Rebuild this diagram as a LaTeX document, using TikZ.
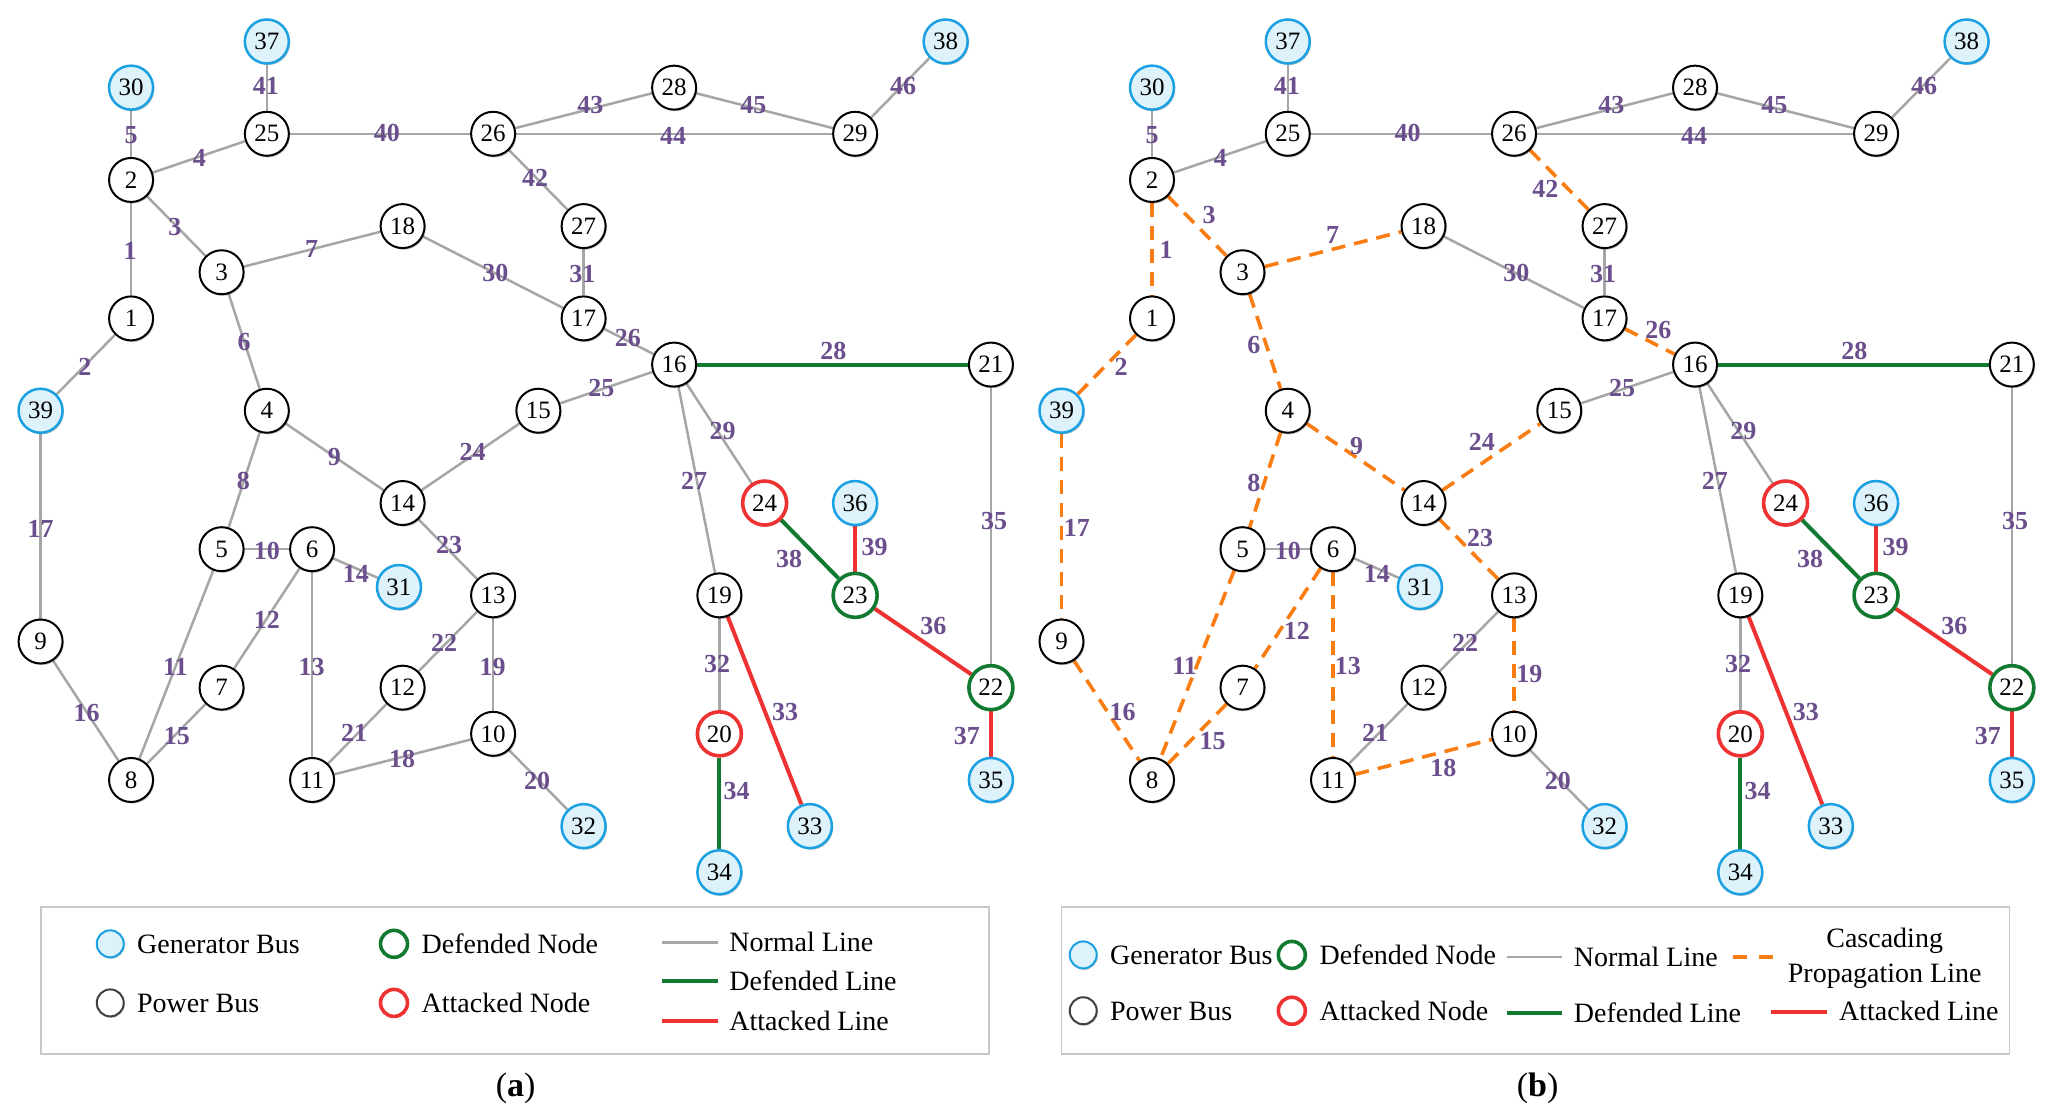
\documentclass[tikz,border=0pt]{standalone}
\usepackage{fontspec}
\setmainfont{Liberation Serif}
\usetikzlibrary{positioning,shadows}
\pgfdeclarelayer{bg}
\pgfsetlayers{bg,main}
\definecolor{genblue}{RGB}{27,161,226}
\definecolor{genfill}{RGB}{221,242,251}
\definecolor{defgreen}{RGB}{18,122,48}
\definecolor{attred}{RGB}{238,50,50}
\definecolor{lblpurple}{RGB}{107,79,140}
\definecolor{linegray}{RGB}{166,166,166}
\definecolor{cascorange}{RGB}{250,125,20}
\definecolor{framegray}{RGB}{200,200,200}
\tikzset{
  bus/.style={circle, draw=black, line width=1pt, fill=white, minimum size=22pt,
    inner sep=0pt, font=\fontsize{12.5}{14}\selectfont,
    drop shadow={shadow xshift=0.6pt, shadow yshift=-0.8pt, opacity=0.25, fill=black}},
  gen/.style={bus, draw=genblue, fill=genfill, line width=1.25pt},
  defnode/.style={bus, draw=defgreen, line width=1.8pt},
  attnode/.style={bus, draw=attred, line width=1.8pt},
  normalline/.style={draw=linegray, line width=1.25pt},
  defline/.style={draw=defgreen, line width=2pt},
  attline/.style={draw=attred, line width=2pt},
  cascline/.style={draw=cascorange, line width=1.8pt, dash pattern=on 7pt off 4.5pt},
  lbl/.style={inner sep=0pt, text=lblpurple, font=\fontsize{13}{15}\selectfont\bfseries}
}
\tikzset{
  lgcirc/.style={circle, inner sep=0pt, minimum size=13.5pt, line width=1pt, draw=black!75,
    fill=white, drop shadow={shadow xshift=0.5pt, shadow yshift=-0.7pt, opacity=0.25, fill=black}},
  lgtext/.style={inner sep=0pt, anchor=west, text height=9.3pt, text depth=0pt,
    font=\fontsize{14}{17}\selectfont},
  lgframe/.style={draw=framegray, line width=0.7pt}
}
\begin{document}
\begin{tikzpicture}[x=22.628pt, y=-23.079pt]
  \useasboundingbox (-0.8965,-0.8988) rectangle (44.448,23.258);

  \foreach \p/\dx/\cs in {a/0/normalline, b/22.56/cascline} {
    \begin{scope}[shift={(\dx,0)}]
      \node[bus] (\p1) at (2,6) {1};
      \node[bus] (\p2) at (2,3) {2};
      \node[bus] (\p3) at (4,5) {3};
      \node[bus] (\p4) at (5,8) {4};
      \node[bus] (\p5) at (4,11) {5};
      \node[bus] (\p6) at (6,11) {6};
      \node[bus] (\p7) at (4,14) {7};
      \node[bus] (\p8) at (2,16) {8};
      \node[bus] (\p9) at (0,13) {9};
      \node[bus] (\p10) at (10,15) {10};
      \node[bus] (\p11) at (6,16) {11};
      \node[bus] (\p12) at (8,14) {12};
      \node[bus] (\p13) at (10,12) {13};
      \node[bus] (\p14) at (8,10) {14};
      \node[bus] (\p15) at (11,8) {15};
      \node[bus] (\p16) at (14,7) {16};
      \node[bus] (\p17) at (12,6) {17};
      \node[bus] (\p18) at (8,4) {18};
      \node[bus] (\p19) at (15,12) {19};
      \node[attnode] (\p20) at (15,15) {20};
      \node[bus] (\p21) at (21,7) {21};
      \node[defnode] (\p22) at (21,14) {22};
      \node[defnode] (\p23) at (18,12) {23};
      \node[attnode] (\p24) at (16,10) {24};
      \node[bus] (\p25) at (5,2) {25};
      \node[bus] (\p26) at (10,2) {26};
      \node[bus] (\p27) at (12,4) {27};
      \node[bus] (\p28) at (14,1) {28};
      \node[bus] (\p29) at (18,2) {29};

      \node[gen] (\p30) at (2,1) {30};
      \node[gen] (\p31) at (7.92,11.82) {31};
      \node[gen] (\p32) at (12,17) {32};
      \node[gen] (\p33) at (17,17) {33};
      \node[gen] (\p34) at (15,18) {34};
      \node[gen] (\p35) at (21,16) {35};
      \node[gen] (\p36) at (18,10) {36};
      \node[gen] (\p37) at (5,0) {37};
      \node[gen] (\p38) at (20,0) {38};
      \node[gen] (\p39) at (0,8) {39};

      \begin{pgfonlayer}{bg}
        \draw (\p2) edge[\cs] (\p1);
        \draw (\p1) edge[\cs] (\p39);
        \draw (\p2) edge[\cs] (\p3);
        \draw (\p2) edge[normalline] (\p25);
        \draw (\p2) edge[normalline] (\p30);
        \draw (\p3) edge[\cs] (\p4);
        \draw (\p3) edge[\cs] (\p18);
        \draw (\p4) edge[\cs] (\p5);
        \draw (\p4) edge[\cs] (\p14);
        \draw (\p5) edge[normalline] (\p6);
        \draw (\p5) edge[\cs] (\p8);
        \draw (\p6) edge[\cs] (\p7);
        \draw (\p6) edge[\cs] (\p11);
        \draw (\p6) edge[normalline] (\p31);
        \draw (\p7) edge[\cs] (\p8);
        \draw (\p9) edge[\cs] (\p8);
        \draw (\p39) edge[\cs] (\p9);
        \draw (\p11) edge[\cs] (\p10);
        \draw (\p13) edge[\cs] (\p10);
        \draw (\p10) edge[normalline] (\p32);
        \draw (\p11) edge[normalline] (\p12);
        \draw (\p12) edge[normalline] (\p13);
        \draw (\p14) edge[\cs] (\p13);
        \draw (\p14) edge[\cs] (\p15);
        \draw (\p15) edge[normalline] (\p16);
        \draw (\p17) edge[\cs] (\p16);
        \draw (\p16) edge[normalline] (\p19);
        \draw (\p16) edge[defline] (\p21);
        \draw (\p16) edge[normalline] (\p24);
        \draw (\p18) edge[normalline] (\p17);
        \draw (\p27) edge[normalline] (\p17);
        \draw (\p19) edge[normalline] (\p20);
        \draw (\p19) edge[attline] (\p33);
        \draw (\p20) edge[defline] (\p34);
        \draw (\p21) edge[normalline] (\p22);
        \draw (\p23) edge[attline] (\p22);
        \draw (\p22) edge[attline] (\p35);
        \draw (\p24) edge[defline] (\p23);
        \draw (\p36) edge[attline] (\p23);
        \draw (\p25) edge[normalline] (\p26);
        \draw (\p37) edge[normalline] (\p25);
        \draw (\p26) edge[\cs] (\p27);
        \draw (\p26) edge[normalline] (\p28);
        \draw (\p26) edge[normalline] (\p29);
        \draw (\p28) edge[normalline] (\p29);
        \draw (\p29) edge[normalline] (\p38);
      \end{pgfonlayer}

      \node[lbl] (\p l4) at (3.51,2.53) {4};
      \node[lbl] (\p l5) at (2,2.02) {5};
      \node[lbl] (\p l10) at (5,11.04) {10};
      \node[lbl] (\p l14) at (6.97,11.54) {14};
      \node[lbl] (\p l20) at (10.97,16.03) {20};
      \node[lbl] (\p l21) at (6.93,14.97) {21};
      \node[lbl] (\p l22) at (8.92,13.04) {22};
      \node[lbl] (\p l25) at (12.39,7.51) {25};
      \node[lbl] (\p l27) at (14.44,9.52) {27};
      \node[lbl] (\p l28) at (17.52,6.7) {28};
      \node[lbl] (\p l29) at (15.07,8.43) {29};
      \node[lbl] (\p l30) at (10.05,5.02) {30};
      \node[lbl] (\p l31) at (11.97,5.03) {31};
      \node[lbl] (\p l32) at (14.95,13.48) {32};
      \node[lbl] (\p l33) at (16.45,14.52) {33};
      \node[lbl] (\p l34) at (15.38,16.25) {34};
      \node[lbl] (\p l35) at (21.07,10.4) {35};
      \node[lbl] (\p l36) at (19.73,12.66) {36};
      \node[lbl] (\p l37) at (20.47,15.05) {37};
      \node[lbl] (\p l38) at (16.54,11.21) {38};
      \node[lbl] (\p l39) at (18.43,10.96) {39};
      \node[lbl] (\p l40) at (7.65,1.98) {40};
      \node[lbl] (\p l41) at (4.98,0.96) {41};
      \node[lbl] (\p l43) at (12.15,1.37) {43};
      \node[lbl] (\p l44) at (13.98,2.05) {44};
      \node[lbl] (\p l45) at (15.75,1.37) {45};
      \node[lbl] (\p l46) at (19.06,0.96) {46};
    \end{scope}
  }

  % labels of the lines that cascade in (b)
  \node[lbl] (al1) at (1.98,4.53) {1};
  \node[lbl] (al2) at (0.98,7.05) {2};
  \node[lbl] (al3) at (2.97,4.01) {3};
  \node[lbl] (al6) at (4.5,6.52) {6};
  \node[lbl] (al7) at (5.99,4.5) {7};
  \node[lbl] (al8) at (4.48,9.53) {8};
  \node[lbl] (al9) at (6.49,9.01) {9};
  \node[lbl] (al11) at (2.98,13.56) {11};
  \node[lbl] (al12) at (5,12.53) {12};
  \node[lbl] (al13) at (5.99,13.56) {13};
  \node[lbl] (al15) at (3.01,15.04) {15};
  \node[lbl] (al16) at (1.02,14.54) {16};
  \node[lbl] (al17) at (0,10.55) {17};
  \node[lbl] (al18) at (7.99,15.55) {18};
  \node[lbl] (al19) at (9.99,13.56) {19};
  \node[lbl] (al23) at (9.03,10.91) {23};
  \node[lbl] (al24) at (9.55,8.89) {24};
  \node[lbl] (al26) at (12.98,6.42) {26};
  \node[lbl] (al42) at (10.93,2.96) {42};

  \begin{scope}[shift={(22.56,0)}]
    \node[lbl] (bl1) at (2.31,4.52) {1};
    \node[lbl] (bl2) at (1.32,7.05) {2};
    \node[lbl] (bl3) at (3.26,3.77) {3};
    \node[lbl] (bl6) at (4.25,6.57) {6};
    \node[lbl] (bl7) at (5.99,4.2) {7};
    \node[lbl] (bl8) at (4.25,9.56) {8};
    \node[lbl] (bl9) at (6.52,8.76) {9};
    \node[lbl] (bl11) at (2.72,13.53) {11};
    \node[lbl] (bl12) at (5.2,12.76) {12};
    \node[lbl] (bl13) at (6.33,13.53) {13};
    \node[lbl] (bl15) at (3.34,15.16) {15};
    \node[lbl] (bl16) at (1.35,14.52) {16};
    \node[lbl] (bl17) at (0.34,10.53) {17};
    \node[lbl] (bl18) at (8.44,15.73) {18};
    \node[lbl] (bl19) at (10.34,13.7) {19};
    \node[lbl] (bl23) at (9.25,10.75) {23};
    \node[lbl] (bl24) at (9.29,8.68) {24};
    \node[lbl] (bl26) at (13.19,6.25) {26};
    \node[lbl] (bl42) at (10.69,3.2) {42};
  \end{scope}

  % legend (a)
  \draw[lgframe] (0.01,18.75) rectangle (20.96,21.94);
  \node[lgcirc, draw=genblue, fill=genfill] (ka1) at (1.54,19.55) {};
  \node[lgtext, right=6pt of ka1] (ta1) {Generator Bus};
  \node[lgcirc] (ka2) at (1.54,20.83) {};
  \node[lgtext, right=6pt of ka2] (ta2) {Power Bus};
  \node[lgcirc, draw=defgreen, line width=1.8pt] (ka3) at (7.81,19.55) {};
  \node[lgtext, right=6pt of ka3] (ta3) {Defended Node};
  \node[lgcirc, draw=attred, line width=1.8pt] (ka4) at (7.81,20.83) {};
  \node[lgtext, right=6pt of ka4] (ta4) {Attacked Node};
  \coordinate (na1) at (13.74,19.52); \coordinate (na2) at (14.97,19.52);
  \draw[normalline] (na1) -- (na2);
  \node[lgtext, right=5.5pt of na2] (tna) {Normal Line};
  \coordinate (da1) at (13.74,20.35); \coordinate (da2) at (14.97,20.35);
  \draw[defline] (da1) -- (da2);
  \node[lgtext, right=5.5pt of da2] (tda) {Defended Line};
  \coordinate (aa1) at (13.74,21.22); \coordinate (aa2) at (14.97,21.22);
  \draw[attline] (aa1) -- (aa2);
  \node[lgtext, right=5.5pt of aa2] (taa) {Attacked Line};

  % legend (b)
  \draw[lgframe] (22.565,18.75) rectangle (43.51,21.94);
  \node[lgcirc, draw=genblue, fill=genfill] (kb1) at (23.04,19.79) {};
  \node[lgtext, right=6pt of kb1] (tb1) {Generator Bus};
  \node[lgcirc] (kb2) at (23.04,21.0) {};
  \node[lgtext, right=6pt of kb2] (tb2) {Power Bus};
  \node[lgcirc, draw=defgreen, line width=1.8pt] (kb3) at (27.65,19.79) {};
  \node[lgtext, right=6pt of kb3] (tb3) {Defended Node};
  \node[lgcirc, draw=attred, line width=1.8pt] (kb4) at (27.65,21.0) {};
  \node[lgtext, right=6pt of kb4] (tb4) {Attacked Node};
  \coordinate (nb1) at (32.41,19.83); \coordinate (nb2) at (33.63,19.83);
  \draw[normalline] (nb1) -- (nb2);
  \node[lgtext, right=5.5pt of nb2] (tnb) {Normal Line};
  \coordinate (db1) at (32.41,21.05); \coordinate (db2) at (33.63,21.05);
  \draw[defline] (db1) -- (db2);
  \node[lgtext, right=5.5pt of db2] (tdb) {Defended Line};
  \coordinate (cb1) at (37.39,19.84); \coordinate (cb2) at (38.28,19.84);
  \draw[cascline, dash pattern=on 7pt off 6pt] (cb1) -- (cb2);
  \node[lgtext, anchor=center] (tcb1) at (40.75,19.43) {Cascading};
  \node[lgtext, anchor=center] (tcb2) at (40.75,20.18) {Propagation Line};
  \coordinate (ab1) at (38.23,21.02); \coordinate (ab2) at (39.47,21.02);
  \draw[attline] (ab1) -- (ab2);
  \node[lgtext, right=6pt of ab2] (tab) {Attacked Line};

  \node[font=\fontsize{17}{20}\selectfont] (capa) at (10.5,22.68) {(\textbf{a})};
  \node[font=\fontsize{17}{20}\selectfont] (capb) at (33.08,22.68) {(\textbf{b})};
\end{tikzpicture}
\end{document}
